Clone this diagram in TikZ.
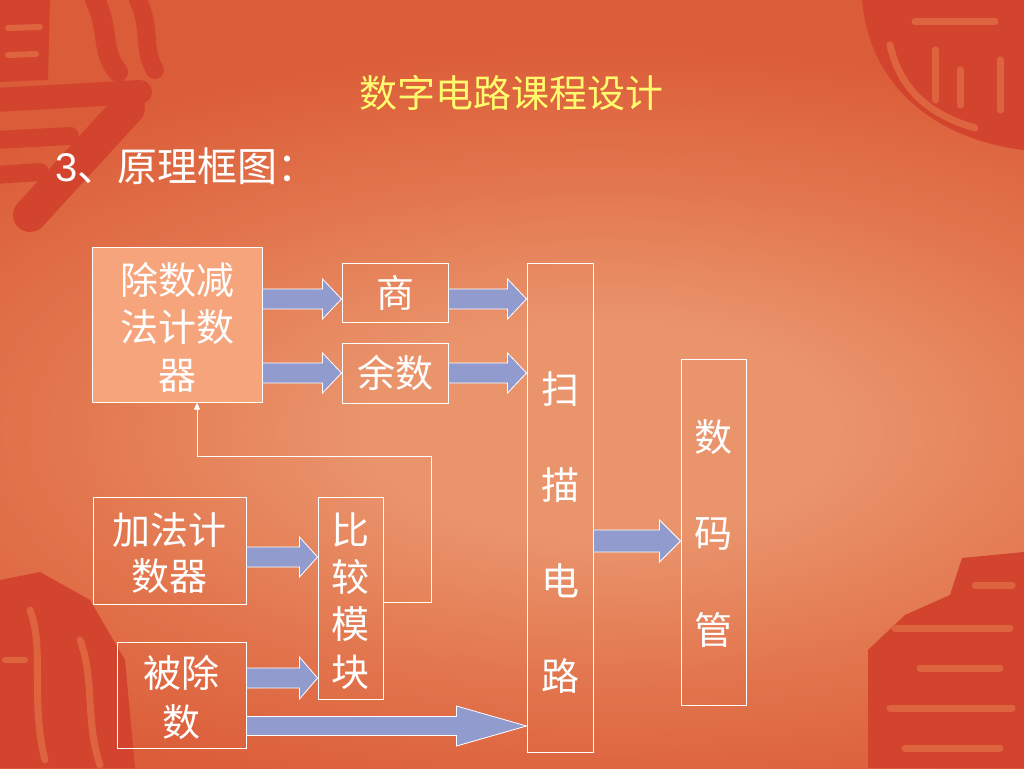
\documentclass[tikz,border=0pt]{standalone}
\usepackage{fontspec}
\newfontfamily\cjk{Noto Sans CJK SC}
\newfontfamily\lat{Liberation Sans}
\usetikzlibrary{calc,arrows.meta}
\definecolor{bgbase}{RGB}{219,92,56}
\definecolor{bgmid}{RGB}{226,118,78}
\definecolor{bglight}{RGB}{234,148,108}
\definecolor{sealred}{RGB}{211,68,46}
\definecolor{sealgapc}{RGB}{222,100,64}
\definecolor{divfill}{RGB}{246,164,124}
\definecolor{arrowfill}{RGB}{145,155,205}
\definecolor{titleyellow}{RGB}{255,250,110}
\pgfdeclareradialshading{bgshade}{\pgfpoint{0bp}{0bp}}{color(0bp)=(bglight); color(7bp)=(bglight); color(16bp)=(bgmid); color(25bp)=(bgbase); color(50bp)=(bgbase)}
\newcommand{\barrow}[5]{%
  \draw[blockarrow] let \p1=(#1), \p2=(#2) in
  (\x1,\y1+#3) -- (\x2-#5,\y1+#3) -- (\x2-#5,\y1+#4) -- (\x2,\y1) --
  (\x2-#5,\y1-#4) -- (\x2-#5,\y1-#3) -- (\x1,\y1-#3) -- cycle;}
\begin{document}
\begin{tikzpicture}[x=1pt,y=-1pt,
  box/.style={draw=white, line width=1pt, inner sep=0pt},
  txt/.style={text=white, align=center, inner sep=0pt},
  blockarrow/.style={fill=arrowfill, draw=white, line width=0.8pt, line join=miter},
  seal/.style={draw=sealred, line cap=round, line join=round},
  sealfill/.style={fill=sealred},
  sealgap/.style={draw=sealgapc, line cap=round},
  fbline/.style={draw=white, line width=1pt, -{Triangle[width=6pt,length=7pt]}}]
\useasboundingbox (0,0) rectangle (1024,768);
% background
\fill[bgbase] (0,0) rectangle (1024,768);
\shade[shading=bgshade] (-250,40) rectangle (1450,820);
% decorative seals (top left)
\fill[sealfill] (0,0) -- (50,0) -- (48,80) -- (0,82) -- cycle;
\draw[sealgap, line width=6] (8,28) -- (40,27);
\draw[sealgap, line width=6] (8,55) -- (36,54);
\draw[seal, line width=24] (-5,100) -- (140,92);
\draw[seal, line width=34] (128,108) -- (30,215);
\draw[seal, line width=18] (-5,140) -- (70,136);
\draw[seal, line width=18] (-5,175) -- (40,172);
\draw[seal, line width=20] (95,0) .. controls (110,30) and (100,50) .. (118,72);
\draw[seal, line width=18] (138,0) .. controls (152,30) and (142,50) .. (155,70);
% top right
\fill[sealfill] (862,0) .. controls (870,90) and (940,140) .. (1024,150) -- (1024,0) -- cycle;
\draw[sealgap, line width=7] (915,22) -- (995,22);
\draw[sealgap, line width=7] (890,45) .. controls (900,90) and (930,115) .. (975,128);
\draw[sealgap, line width=7] (935,50) -- (935,100);
\draw[sealgap, line width=7] (960,70) -- (960,105);
\draw[sealgap, line width=7] (1000,60) -- (1000,110);
% bottom right
\fill[sealfill] (868,768) -- (868,650) -- (905,615) -- (950,595) -- (962,558) -- (1024,552) -- (1024,768) -- cycle;
\draw[sealgap, line width=7] (975,585) -- (1012,585);
\draw[sealgap, line width=7] (895,628) -- (1010,628);
\draw[sealgap, line width=7] (920,668) -- (1000,668);
\draw[sealgap, line width=7] (890,708) -- (1012,708);
\draw[sealgap, line width=7] (905,748) -- (1000,748);
% bottom left
\fill[sealfill] (0,580) -- (40,572) -- (90,600) -- (125,660) -- (135,768) -- (0,768) -- cycle;
\draw[sealgap, line width=7] (30,610) .. controls (45,650) and (30,700) .. (45,760);
\draw[sealgap, line width=7] (80,640) .. controls (95,680) and (85,720) .. (100,765);
\draw[sealgap, line width=6] (5,660) -- (25,660);
% titles
\node[text=titleyellow, inner sep=0pt, font=\cjk\fontsize{38}{46}\selectfont] (title) at (511,93) {数字电路课程设计};
\node[text=white, inner sep=0pt, anchor=west, font=\cjk\fontsize{40}{48}\selectfont] (head) at (55,166) {{\lat 3}、原理框图：};
% boxes
\node[box, fill=divfill, minimum width=170, minimum height=155] (div) at (177,324.5) {};
\node[box, minimum width=106, minimum height=59] (q) at (395,292.5) {};
\node[box, minimum width=106, minimum height=60] (r) at (395,373) {};
\node[box, minimum width=66, minimum height=489] (scan) at (560,507.5) {};
\node[box, minimum width=65, minimum height=346] (disp) at (713.5,532) {};
\node[box, minimum width=153, minimum height=107] (add) at (169.5,550.5) {};
\node[box, minimum width=65, minimum height=202] (cmp) at (350.5,598) {};
\node[box, minimum width=129, minimum height=106] (dvd) at (181.5,695) {};
% texts
\node[txt, font=\cjk\fontsize{38}{47.5}\selectfont] (divt) at (177,327) {除数减\\法计数\\器};
\node[txt, font=\cjk\fontsize{38}{46}\selectfont] (qt) at (395,293) {商};
\node[txt, font=\cjk\fontsize{38}{46}\selectfont] (rt) at (395,373) {余数};
\node[txt, font=\cjk\fontsize{38}{95.7}\selectfont] (scant) at (560,533) {扫\\描\\电\\路};
\node[txt, font=\cjk\fontsize{38}{96.5}\selectfont] (dispt) at (713,533.5) {数\\码\\管};
\node[txt, font=\cjk\fontsize{38}{46}\selectfont] (addt) at (169,553) {加法计\\数器};
\node[txt, font=\cjk\fontsize{38}{47.3}\selectfont] (cmpt) at (350.5,601) {比\\较\\模\\块};
\node[txt, font=\cjk\fontsize{38}{49}\selectfont] (dvdt) at (181,697.5) {被除\\数};
% block arrows
\barrow{div.east |- 0,299}{q.west |- 0,299}{10pt}{20pt}{19pt}
\barrow{div.east |- 0,373}{r.west |- 0,373}{10pt}{20pt}{19pt}
\barrow{q.east |- 0,299}{scan.west |- 0,299}{10pt}{20pt}{19pt}
\barrow{r.east |- 0,373}{scan.west |- 0,373}{10pt}{20pt}{19pt}
\barrow{scan.east |- 0,541}{disp.west |- 0,541}{11pt}{21pt}{21pt}
\barrow{add.east |- 0,557}{cmp.west |- 0,557}{10pt}{20pt}{18pt}
\barrow{dvd.east |- 0,678}{cmp.west |- 0,678}{10pt}{21pt}{18pt}
\barrow{dvd.east |- 0,726}{scan.west |- 0,726}{9.5pt}{20pt}{70pt}
% feedback line
\coordinate (fb0) at ($(cmp.east)+(0,4)$);
\coordinate (fb1) at (431,602);
\coordinate (fb2) at (431,456);
\coordinate (fb3) at (197,456);
\draw[fbline] (fb0) -- (fb1) -- (fb2) -- (fb3) -- (fb3 |- div.south);
\end{tikzpicture}
\end{document}
